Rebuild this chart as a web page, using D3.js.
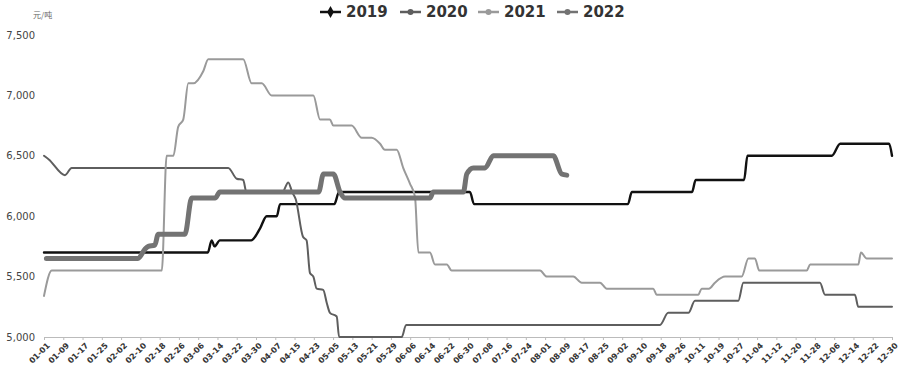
<!DOCTYPE html>
<html>
<head>
<meta charset="utf-8">
<script src="https://cdn.jsdelivr.net/npm/d3@7"></script>
<style>
  html, body { margin: 0; padding: 0; background: #fff; }
  svg { display: block; }
</style>
</head>
<body>
<div id="chart"></div>
<script>
// x tick labels, one every 8 positions on the category axis
const tickLabels = ["01-01","01-09","01-17","01-25","02-02","02-10","02-18","02-26","03-06","03-14",
  "03-22","03-30","04-07","04-15","04-23","05-05","05-13","05-21","05-29","06-06","06-14","06-22",
  "06-30","07-08","07-16","07-24","08-01","08-09","08-17","08-25","09-02","09-10","09-18","09-26",
  "10-11","10-19","10-27","11-04","11-12","11-20","11-28","12-06","12-14","12-22","12-30"]
const yTicks = [5000, 5500, 6000, 6500, 7000, 7500]
const seriesNames = ["2019", "2020", "2021", "2022"]

// [category position, price]
const s2019 = [[0,5700],[68,5700],[69.6,5800],[70.8,5750],[73,5800],[86,5800],[89.7,5900],[92.4,6000],
  [96.6,6000],[98,6100],[120.5,6100],[122.5,6200],[176.8,6200],[178.5,6100],[242.4,6100],[244,6200],
  [269,6200],[270.5,6300],[290.6,6300],[292,6500],[327,6500],[330.5,6600],[350.8,6600],[352,6500]]
const s2020 = [[0,6500],[2,6470],[8.7,6340],[11.5,6400],[76.5,6400],[80,6310],[82.7,6300],[84,6200],
  [99,6200],[101.4,6280],[103,6200],[104.5,6140],[107.5,5830],[109,5800],[110.4,5530],[111.8,5500],
  [113.2,5400],[115.9,5390],[117.4,5280],[118.7,5200],[121.5,5170],[122.5,5000],[148.5,5000],
  [150.3,5100],[255.7,5100],[259.1,5200],[267.5,5200],[270.2,5300],[288.2,5300],[290.3,5450],
  [322.1,5450],[324.2,5350],[336.6,5350],[338,5250],[352,5250]]
const s2021 = [[0,5340],[3.2,5550],[48.9,5550],[50.9,6500],[53.7,6500],[55.7,6740],[57.8,6800],
  [59.9,7100],[62,7100],[66.1,7200],[68.2,7300],[82.7,7300],[86.2,7100],[90.4,7100],[94.5,7000],
  [111.8,7000],[114.6,6800],[118.7,6800],[120.1,6750],[127.7,6750],[131.9,6650],[136,6650],
  [139.5,6600],[141.5,6550],[146.4,6550],[149.1,6400],[151.9,6270],[154,6160],[155.4,5700],
  [160.2,5700],[162.3,5600],[167.2,5600],[169.2,5550],[205.9,5550],[208.7,5500],[219.7,5500],
  [223.2,5450],[230.8,5450],[233.6,5400],[252.9,5400],[254.3,5350],[271.6,5350],[273,5400],
  [276,5400],[278.5,5450],[282.7,5500],[289.6,5500],[292.4,5650],[295.1,5650],[296.9,5550],
  [316.6,5550],[318,5600],[338,5600],[339.1,5700],[341.5,5650],[352,5650]]
const s2022 = [[1,5650],[39,5650],[42,5730],[43.3,5750],[46,5760],[47.4,5850],[58.5,5850],[61.3,6150],
  [71,6150],[73,6200],[114,6200],[116,6350],[120.1,6350],[122.9,6200],[124.9,6150],[160.2,6150],
  [161.6,6200],[174.1,6200],[175.5,6350],[178.2,6400],[183.1,6400],[186.5,6500],[211.4,6500],
  [214.9,6350],[217,6340]]

const width = 900
const height = 373
const margin = { top: 35, right: 8, bottom: 36, left: 44 }

const styles = [
  { data: s2019, color: "#111", w: 2.4, marker: "diamond" },
  { data: s2020, color: "#5e5e5e", w: 2, marker: "circle" },
  { data: s2021, color: "#9a9a9a", w: 2, marker: "circle" },
  { data: s2022, color: "#737373", w: 5, marker: "circle" }
]

const svg = d3.select("#chart").append("svg").attr("width", width).attr("height", height)

const x = d3.scaleLinear()
  .domain([0, (tickLabels.length - 1) * 8])
  .range([margin.left, width - margin.right])
const y = d3.scaleLinear()
  .domain([5000, 7500])
  .range([height - margin.bottom, margin.top])

// y labels, no axis line
svg.append("g")
  .style("font", "10px 'DejaVu Sans', sans-serif")
  .attr("fill", "#444")
  .selectAll("text")
  .data(yTicks)
  .join("text")
  .attr("x", 35)
  .attr("y", d => y(d))
  .attr("dy", "0.35em")
  .attr("text-anchor", "end")
  .text(d3.format(","))

svg.append("text")
  .attr("x", 33)
  .attr("y", 18)
  .attr("fill", "#666")
  .style("font", "8px 'Noto Sans CJK SC', sans-serif")
  .text("元/吨")

// x axis
const xAxis = d3.axisBottom(x)
  .tickValues(tickLabels.map((d, i) => i * 8))
  .tickFormat((d, i) => tickLabels[i])
  .tickSizeOuter(0)
  .tickSize(3)

const gx = svg.append("g")
  .attr("transform", `translate(0,${y(5000)})`)
  .call(xAxis)
gx.select(".domain").attr("stroke", "#bbb")
gx.selectAll(".tick line").attr("stroke", "#bbb")
gx.selectAll(".tick text")
  .attr("fill", "#333")
  .style("font", "bold 8px 'DejaVu Sans', sans-serif")
  .attr("text-anchor", "end")
  .attr("dy", null)
  .attr("y", null)
  .attr("transform", "translate(6,9) rotate(-45)")

const line = d3.line()
  .x(d => x(d[0]))
  .y(d => y(d[1]))
  .curve(d3.curveMonotoneX)

svg.append("g")
  .selectAll("path")
  .data(styles)
  .join("path")
  .attr("d", d => line(d.data))
  .attr("fill", "none")
  .attr("stroke", d => d.color)
  .attr("stroke-width", d => d.w)
  .attr("stroke-linejoin", "round")
  .attr("stroke-linecap", "round")

// legend
const legendX = [320, 400, 478, 557]
const leg = svg.append("g")
  .selectAll("g")
  .data(styles)
  .join("g")
  .attr("transform", (d, i) => `translate(${legendX[i]},12)`)

leg.append("line")
  .attr("x1", 0).attr("x2", 21)
  .attr("stroke", d => d.color)
  .attr("stroke-width", 2.5)
leg.append("path")
  .attr("transform", "translate(10.5,0)")
  .attr("d", d => d3.symbol(d.marker === "diamond" ? d3.symbolDiamond : d3.symbolCircle, d.marker === "diamond" ? 40 : 28)())
  .attr("fill", d => d.color)
leg.append("text")
  .attr("x", 26)
  .attr("y", 0)
  .attr("dy", "0.36em")
  .attr("fill", "#333")
  .style("font", "bold 15px 'DejaVu Sans', sans-serif")
  .text((d, i) => seriesNames[i])
</script>
</body>
</html>
